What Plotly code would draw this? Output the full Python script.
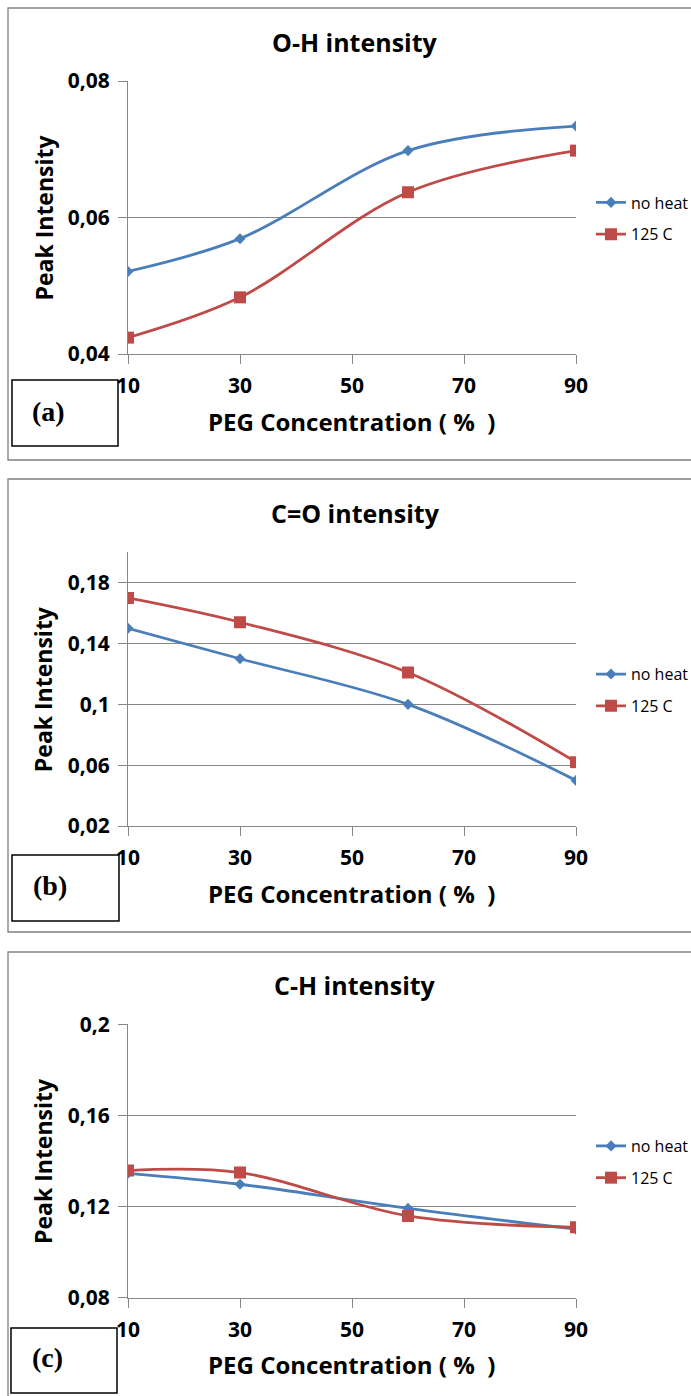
import plotly.graph_objects as go

W, H = 691, 1396

# ---------------- data ----------------
x_conc = [10, 30, 60, 90]
series_names = ["no heat", "125 C"]

oh_noheat = [0.0521, 0.0569, 0.0698, 0.0734]
oh_125c = [0.0424, 0.0483, 0.0637, 0.0698]

co_noheat = [0.150, 0.130, 0.100, 0.050]
co_125c = [0.170, 0.154, 0.121, 0.062]

ch_noheat = [0.1346, 0.1298, 0.1192, 0.1101]
ch_125c = [0.1358, 0.1349, 0.1159, 0.1109]

titles = ["O-H intensity", "C=O intensity", "C-H intensity"]
panel_labels = ["(a)", "(b)", "(c)"]
x_title = "PEG Concentration (\u00a0%\u00a0\u00a0)"
y_title = "Peak Intensity"

x_tickvals = [10, 30, 50, 70, 90]
x_ticktext = ["10", "30", "50", "70", "90"]

y_tickvals_a = [0.04, 0.06, 0.08]
y_ticktext_a = ["0,04", "0,06", "0,08"]
y_tickvals_b = [0.02, 0.06, 0.10, 0.14, 0.18]
y_ticktext_b = ["0,02", "0,06", "0,1", "0,14", "0,18"]
y_tickvals_c = [0.08, 0.12, 0.16, 0.20]
y_ticktext_c = ["0,08", "0,12", "0,16", "0,2"]

y_range_a = [0.04, 0.08]
y_range_b = [0.02, 0.20]
y_range_c = [0.08, 0.20]

# ---------------- styling / layout ----------------
BLUE = "#4A7EBB"
RED = "#BE4B48"
GRID = "#878787"
FONT = "Open Sans"


def px(x):
    return x / W


def py(y):
    return 1 - y / H


panels = [
    dict(top=81, bottom=354, frame=(8, 460), box=(12, 380, 118, 446), lab=(49, 411),
         series=(oh_noheat, oh_125c), yt=(y_tickvals_a, y_ticktext_a), yr=y_range_a),
    dict(top=552.3, bottom=826, frame=(479, 932), box=(12, 855, 119, 921), lab=(50, 886),
         series=(co_noheat, co_125c), yt=(y_tickvals_b, y_ticktext_b), yr=y_range_b),
    dict(top=1024.3, bottom=1297.7, frame=(952, 1410), box=(11, 1328, 117, 1393), lab=(47, 1357),
         series=(ch_noheat, ch_125c), yt=(y_tickvals_c, y_ticktext_c), yr=y_range_c),
]

fig = go.Figure()
shapes = []
annotations = []
layout = dict(
    template="none",
    width=W, height=H,
    margin=dict(l=0, r=0, t=0, b=0, pad=0, autoexpand=False),
    paper_bgcolor="white", plot_bgcolor="white",
    font=dict(family=FONT, color="#000000"),
)

x_left, x_right = 128, 576

for i, p in enumerate(panels):
    n = "" if i == 0 else str(i + 1)
    xa, ya = "x" + n, "y" + n
    leg = "legend" + n
    noheat, c125 = p["series"]
    fig.add_trace(go.Scatter(
        x=x_conc, y=noheat, name=series_names[0], xaxis=xa, yaxis=ya, legend=leg,
        legendgroup="g%d_0" % i,
        mode="lines+markers", line=dict(color=BLUE, width=2.8, shape="spline"),
        marker=dict(symbol="diamond", size=8.5, color=BLUE)))
    fig.add_trace(go.Scatter(
        x=x_conc, y=c125, name=series_names[1], xaxis=xa, yaxis=ya, legend=leg,
        legendgroup="g%d_1" % i,
        mode="lines+markers", line=dict(color=RED, width=2.8, shape="spline"),
        marker=dict(symbol="square", size=12, color=RED)))

    ydom = [py(p["bottom"]), py(p["top"])]
    layout["xaxis" + n] = dict(
        domain=[px(x_left), px(x_right)], anchor=ya, range=[10, 90], automargin=False,
        tickmode="array", tickvals=x_tickvals, ticktext=x_ticktext,
        showline=True, linecolor=GRID, linewidth=1, showgrid=False, zeroline=False,
        ticks="outside", ticklen=9, tickcolor=GRID, tickwidth=1,
        tickfont=dict(family=FONT, size=21, color="black", weight="bold"),
        ticklabelstandoff=4, fixedrange=True)
    layout["yaxis" + n] = dict(
        domain=ydom, anchor=xa, range=p["yr"], automargin=False,
        tickmode="array", tickvals=p["yt"][0], ticktext=p["yt"][1],
        showline=True, linecolor=GRID, linewidth=1,
        showgrid=True, gridcolor=GRID, gridwidth=1, zeroline=False,
        ticks="outside", ticklen=9, tickcolor=GRID, tickwidth=1,
        tickfont=dict(family=FONT, size=21, color="black", weight="bold"),
        ticklabelstandoff=4, fixedrange=True)
    layout[leg] = dict(
        x=px(591), xanchor="left", y=(ydom[0] + ydom[1]) / 2 - 0.0007, yanchor="middle",
        bgcolor="rgba(0,0,0,0)", borderwidth=0,
        font=dict(family=FONT, size=16, color="black"),
        traceorder="grouped", tracegroupgap=8)

    # outer frame
    f0, f1 = p["frame"]
    shapes.append(dict(type="rect", xref="paper", yref="paper",
                       x0=px(8), x1=px(720), y0=py(f1), y1=py(f0),
                       line=dict(color="#808080", width=1.3), layer="below"))
    # panel label box
    bx0, by0, bx1, by1 = p["box"]
    shapes.append(dict(type="rect", xref="paper", yref="paper",
                       x0=px(bx0), x1=px(bx1), y0=py(by1), y1=py(by0),
                       line=dict(color="black", width=1.5), layer="above"))

    mid = (p["top"] + p["bottom"]) / 2
    annotations.append(dict(text=titles[i], xref="paper", yref="paper",
                            x=px(355), y=py(p["top"] - 39), xanchor="center", yanchor="middle",
                            showarrow=False, font=dict(family=FONT, size=25, color="black", weight="bold")))
    annotations.append(dict(text=x_title, xref="paper", yref="paper",
                            x=px(352), y=py(p["bottom"] + 67), xanchor="center", yanchor="middle",
                            showarrow=False, font=dict(family=FONT, size=24, color="black", weight="bold")))
    annotations.append(dict(text=y_title, xref="paper", yref="paper", textangle=-90,
                            x=px(43), y=py(mid), xanchor="center", yanchor="middle",
                            showarrow=False, font=dict(family=FONT, size=23, color="black", weight="bold")))
    annotations.append(dict(text=panel_labels[i], xref="paper", yref="paper",
                            x=px(p["lab"][0]), y=py(p["lab"][1]), xanchor="center", yanchor="middle",
                            showarrow=False,
                            font=dict(family="Liberation Serif", size=28, color="black", weight="bold")))

layout["shapes"] = shapes
layout["annotations"] = annotations
fig.update_layout(**layout)
fig.write_html(
    "out.html",
    config={"displayModeBar": False, "staticPlot": True},
    post_script="document.body.style.margin='0';document.body.style.overflow='hidden';",
)
